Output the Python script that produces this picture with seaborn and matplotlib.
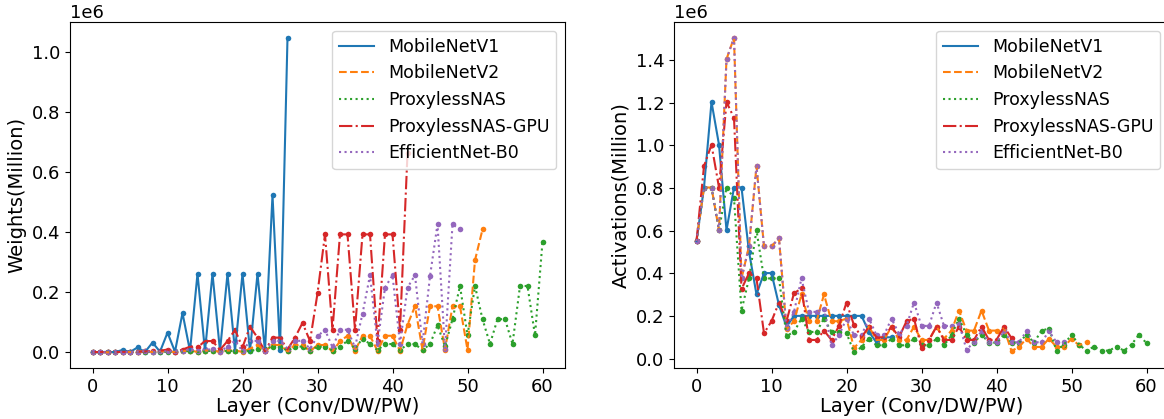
import numpy as np
import pandas as pd
import matplotlib
matplotlib.use("Agg")
import matplotlib.pyplot as plt
import seaborn as sns

# =========================================
# DATA (per layer: Conv / DW / PW)
# =========================================

names = ["MobileNetV1", "MobileNetV2", "ProxylessNAS", "ProxylessNAS-GPU", "EfficientNet-B0"]

w_mbv1 = [864, 288, 2048, 576, 8192, 1152, 16384, 1152, 32768, 2304, 65536, 2304, 131072,
          4608, 262144, 4608, 262144, 4608, 262144, 4608, 262144, 4608, 262144, 4608, 524288,
          9216, 1048576]
a_mbv1 = [551936, 802816, 1204224, 1003520, 602112, 802816, 802816, 501760, 301056, 401408,
          401408, 250880, 150528, 200704, 200704, 200704, 200704, 200704, 200704, 200704,
          200704, 200704, 200704, 125440, 75264, 100352, 100352]

w_mbv2 = [864, 1024, 288, 512, 1536, 864, 2304, 3456, 1296, 3456, 3456, 1296, 4608, 6144,
          1728, 6144, 6144, 1728, 6144, 6144, 1728, 12288, 24576, 3456, 24576, 24576, 3456,
          24576, 24576, 3456, 24576, 24576, 3456, 36864, 55296, 5184, 55296, 55296, 5184,
          55296, 55296, 5184, 92160, 153600, 8640, 153600, 153600, 8640, 153600, 153600,
          8640, 307200, 409600]
a_mbv2 = [551936, 802816, 802816, 602112, 1404928, 1505280, 376320, 526848, 903168, 526848,
          526848, 564480, 137984, 175616, 301056, 175616, 175616, 301056, 175616, 175616,
          188160, 50176, 87808, 150528, 87808, 87808, 150528, 87808, 87808, 150528, 87808,
          87808, 150528, 94080, 131712, 225792, 131712, 131712, 225792, 131712, 131712,
          141120, 36064, 54880, 94080, 54880, 54880, 94080, 54880, 54880, 94080, 62720, 78400]

w_pnas = [864, 1024, 288, 512, 768, 1200, 1152, 1728, 648, 1728, 1728, 3528, 2880, 4800,
          1080, 4800, 4800, 3000, 4800, 4800, 3000, 4800, 9600, 11760, 19200, 19200, 6000,
          19200, 19200, 6000, 19200, 19200, 6000, 19200, 38400, 12000, 46080, 27648, 7200,
          27648, 27648, 7200, 27648, 27648, 7200, 27648, 90000, 20000, 110592, 221184, 56448,
          221184, 110592, 28224, 110592, 110592, 28224, 221184, 221184, 56448, 368640]
a_pnas = [551936, 802816, 802816, 602112, 802816, 752640, 225792, 376320, 602112, 376320,
          376320, 376320, 106624, 125440, 188160, 125440, 125440, 188160, 125440, 125440,
          120000, 30000, 54000, 94080, 62720, 62720, 94080, 62720, 62720, 94080, 62720,
          62720, 94080, 62720, 109760, 188160, 112896, 75264, 112896, 75264, 75264, 112896,
          75264, 75264, 112896, 75264, 131712, 141120, 37632, 65856, 112896, 65856, 37632,
          56448, 37632, 37632, 56448, 37632, 65856, 112896, 72128]

w_gpu = [864, 1280, 360, 960, 1728, 1800, 2304, 3072, 4704, 5376, 9408, 1512, 9408, 18816,
         16464, 37632, 37632, 8400, 37632, 75264, 16800, 86016, 49152, 3456, 49152, 49152,
         9600, 49152, 98304, 37632, 196608, 393216, 75264, 393216, 393216, 75264, 393216,
         393216, 38400, 393216, 393216, 75264, 663552]
a_gpu = [551936, 903168, 1003520, 802816, 1204224, 1128960, 326144, 401408, 376320, 119168,
         175616, 263424, 175616, 307328, 329280, 87808, 87808, 131712, 87808, 153664, 263424,
         156800, 100352, 150528, 100352, 100352, 150528, 100352, 175616, 188160, 50176,
         87808, 150528, 87808, 87808, 150528, 87808, 87808, 150528, 87808, 87808, 150528,
         96432]

w_effb0 = [864, 1024, 288, 512, 1536, 864, 2304, 3456, 1296, 3456, 3456, 3600, 5760, 9600,
           6000, 9600, 9600, 2160, 19200, 38400, 4320, 38400, 38400, 4320, 38400, 38400,
           12000, 38400, 38400, 12000, 53760, 75264, 16800, 75264, 75264, 16800, 129024,
           257000, 28800, 216000, 257000, 28800, 216000, 257000, 28800, 254000, 427000,
           10368, 427000, 409600]
a_effb0 = [551936, 802816, 802816, 602112, 1404928, 1505280, 376320, 526848, 903168, 526848,
           526848, 564480, 144256, 219520, 376320, 219520, 219520, 235200, 62720, 109760,
           188160, 109760, 109760, 188160, 109760, 109760, 188160, 116032, 153664, 263424,
           153664, 153664, 263424, 153664, 153664, 164640, 42336, 77000, 129000, 77000,
           77000, 129000, 77000, 77000, 129000, 77000, 77000, 129000, 77000, 78400]

weights = [w_mbv1, w_mbv2, w_pnas, w_gpu, w_effb0]
acts = [a_mbv1, a_mbv2, a_pnas, a_gpu, a_effb0]

colors = sns.color_palette("tab10", 5)
styles = ["-", "--", ":", "-.", ":"]

# =========================================
# FIGURE
# =========================================

fig = plt.figure(figsize=(11.64, 4.19), dpi=100)
ax1 = fig.add_axes([70 / 1164, 51 / 419, 495 / 1164, 346 / 419])
ax2 = fig.add_axes([674 / 1164, 51 / 419, 495 / 1164, 346 / 419])


def draw(ax, series, ylabel):
    for name, vals, c, ls in zip(names, series, colors, styles):
        df = pd.DataFrame({"layer": np.arange(len(vals)), "value": vals})
        sns.lineplot(data=df, x="layer", y="value", ax=ax, color=c, linestyle=ls,
                     linewidth=1.5, label=name)
        sns.scatterplot(data=df, x="layer", y="value", ax=ax, color=c, s=16,
                        linewidth=0, legend=False)
    ax.set_xlabel("Layer (Conv/DW/PW)", fontsize=14, labelpad=1)
    ax.set_ylabel(ylabel, fontsize=14, labelpad=4)
    ax.tick_params(labelsize=13)
    ax.yaxis.get_offset_text().set_fontsize(13)
    ax.set_xticks([0, 10, 20, 30, 40, 50, 60])
    ax.legend(loc="upper right", fontsize=12.5)


draw(ax1, weights, "Weights(Million)")
draw(ax2, acts, "Activations(Million)")

fig.savefig("out.png", dpi=100)
